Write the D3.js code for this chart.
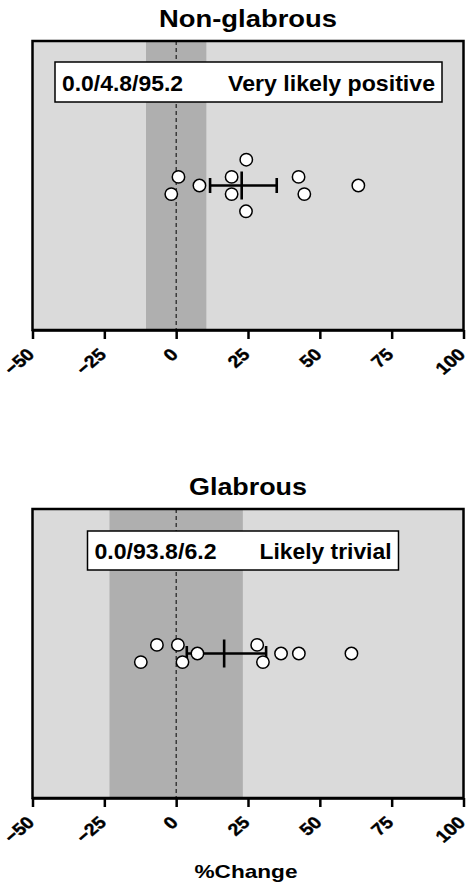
<!DOCTYPE html>
<html>
<head>
<meta charset="utf-8">
<script src="https://cdn.jsdelivr.net/npm/d3@7"></script>
<style>
  html, body { margin: 0; padding: 0; background: #fff; }
  svg { display: block; }
  text { font-family: "Liberation Sans", Arial, sans-serif; font-weight: bold; fill: #000; }
</style>
</head>
<body>
<svg id="chart" width="469" height="890"></svg>
<script>
// Percent change per subject, by skin type
const panelTitles = ["Non-glabrous", "Glabrous"];
const nonGlabrousValues = [0.8, -1.7, 8.1, 19.3, 19.3, 24.4, 24.3, 42.6, 44.6, 63.4];
const nonGlabrousRows   = [-1, 1, 0, -1, 1, -3, 3, -1, 1, 0];
const glabrousValues = [-6.7, 0.6, -12.3, 2.2, 7.4, 28.2, 30.2, 36.5, 42.7, 61.0];
const glabrousRows   = [-1, -1, 1, 1, 0, -1, 1, 0, 0, 0];
// mean and 90% confidence limits
const meanValues = [22.8, 16.7];
const ciLower = [11.8, 3.7];
const ciUpper = [35.0, 31.3];
// smallest worthwhile change (trivial zone half-width)
const trivialHalfWidth = [10.5, 23.2];
// chances harmful / trivial / beneficial and qualitative inference
const chanceLabels = ["0.0/4.8/95.2", "0.0/93.8/6.2"];
const inferenceLabels = ["Very likely positive", "Likely trivial"];
const xTicks = [-50, -25, 0, 25, 50, 75, 100];
const xDomain = [-50, 100];
const xAxisTitle = "%Change";

const svg = d3.select("#chart");
const left = 32.5, right = 463.5;
const panelTops = [41, 509];
const panelHeight = 289;
const boxes = [
  { x0: 55, x1: 442, y0: 62, y1: 102, labelW: 121, infW: 207 },
  { x0: 87.5, x1: 398.5, y0: 531, y1: 570, labelW: 122, infW: 132 }
];
const titleWidths = [178, 118];

const x = d3.scaleLinear().domain(xDomain).range([left, right]);

const panels = [
  { values: nonGlabrousValues, rows: nonGlabrousRows },
  { values: glabrousValues, rows: glabrousRows }
];

panels.forEach((p, i) => {
  const top = panelTops[i], bottom = top + panelHeight;
  const y = d3.scaleLinear().domain([-16.8, 16.8]).range([top, bottom]);
  const g = svg.append("g");

  // background and trivial zone
  g.append("rect").attr("x", left).attr("y", top)
    .attr("width", right - left).attr("height", panelHeight).attr("fill", "#dadada");
  g.append("rect").attr("x", x(-trivialHalfWidth[i])).attr("y", top)
    .attr("width", x(trivialHalfWidth[i]) - x(-trivialHalfWidth[i])).attr("height", panelHeight)
    .attr("fill", "#afafaf");

  // zero reference line
  g.append("line").attr("x1", x(0)).attr("x2", x(0)).attr("y1", top).attr("y2", bottom)
    .attr("stroke", "#000").attr("stroke-width", 1).attr("stroke-dasharray", "4,3");

  // inference box
  const b = boxes[i];
  g.append("rect").attr("x", b.x0).attr("y", b.y0).attr("width", b.x1 - b.x0).attr("height", b.y1 - b.y0)
    .attr("fill", "#fff").attr("stroke", "#000").attr("stroke-width", 1.5);
  const baseline = b.y1 - 11.5;
  g.append("text").attr("x", b.x0 + 7).attr("y", baseline).attr("font-size", 21.5)
    .attr("textLength", b.labelW).attr("lengthAdjust", "spacingAndGlyphs")
    .text(chanceLabels[i]);
  g.append("text").attr("x", b.x1 - 7 - b.infW).attr("y", baseline).attr("font-size", 21.5)
    .attr("textLength", b.infW).attr("lengthAdjust", "spacingAndGlyphs")
    .text(inferenceLabels[i]);

  // mean with confidence interval
  const cy = y(0);
  const eb = g.append("g").attr("stroke", "#000").attr("stroke-width", 2.6);
  eb.append("line").attr("x1", x(ciLower[i])).attr("x2", x(ciUpper[i])).attr("y1", cy).attr("y2", cy);
  eb.append("line").attr("x1", x(ciLower[i])).attr("x2", x(ciLower[i])).attr("y1", cy - 7.5).attr("y2", cy + 7.5);
  eb.append("line").attr("x1", x(ciUpper[i])).attr("x2", x(ciUpper[i])).attr("y1", cy - 7.5).attr("y2", cy + 7.5);
  eb.append("line").attr("x1", x(meanValues[i])).attr("x2", x(meanValues[i])).attr("y1", cy - 14).attr("y2", cy + 14);

  // individual subjects
  g.selectAll("circle.pt").data(p.values).join("circle").attr("class", "pt")
    .attr("cx", d => x(d)).attr("cy", (d, j) => y(p.rows[j]))
    .attr("r", 6.2).attr("fill", "#fff").attr("stroke", "#000").attr("stroke-width", 1.5);

  // frame
  g.append("rect").attr("x", left).attr("y", top).attr("width", right - left).attr("height", panelHeight)
    .attr("fill", "none").attr("stroke", "#000").attr("stroke-width", 2.5);

  // x axis
  const axis = g.append("g").attr("transform", `translate(0,${bottom})`)
    .call(d3.axisBottom(x).tickValues(xTicks).tickSize(9).tickSizeOuter(0).tickFormat(d3.format("d")));
  axis.select(".domain").attr("stroke", "#000").attr("stroke-width", 2.5);
  axis.selectAll(".tick line").attr("stroke", "#000").attr("stroke-width", 2.5);
  axis.selectAll(".tick text")
    .attr("font-size", 17).attr("font-family", "Liberation Sans, Arial, sans-serif").attr("font-weight", "bold")
    .attr("text-anchor", "end").attr("x", 0).attr("y", 0).attr("dy", 0)
    .attr("stroke", "#000").attr("stroke-width", 0.4)
    .attr("transform", "translate(2.5,25.5) scale(1.15,1) rotate(-45)");

  // title
  svg.append("text").attr("x", (left + right) / 2).attr("y", top - 14).attr("text-anchor", "middle")
    .attr("font-size", 24).attr("textLength", titleWidths[i]).attr("lengthAdjust", "spacingAndGlyphs")
    .text(panelTitles[i]);
});

svg.append("text").attr("x", 246).attr("y", 877.5).attr("text-anchor", "middle")
  .attr("font-size", 18.5).attr("textLength", 103).attr("lengthAdjust", "spacingAndGlyphs")
  .text(xAxisTitle);
</script>
</body>
</html>
